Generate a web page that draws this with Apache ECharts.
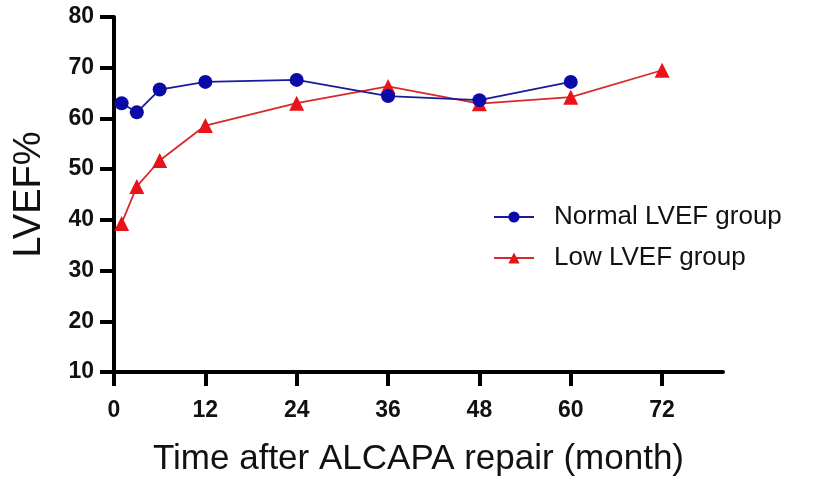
<!DOCTYPE html>
<html><head><meta charset="utf-8">
<script src="https://cdn.jsdelivr.net/npm/echarts@6/dist/echarts.min.js"></script>
<style>html,body{margin:0;padding:0;background:#fff}#c{width:826px;height:488px}</style>
</head><body><div id="c"></div>
<script>
const normalX = [1, 3, 6, 12, 24, 36, 48, 60];
const normalY = [63.0, 61.2, 65.7, 67.2, 67.6, 64.4, 63.6, 67.2];
const lowX = [1, 3, 6, 12, 24, 36, 48, 60, 72];
const lowY = [39.3, 46.6, 51.7, 58.6, 63.0, 66.3, 62.9, 64.2, 69.5];
const xTicks = [0, 12, 24, 36, 48, 60, 72];
const yTicks = [10, 20, 30, 40, 50, 60, 70, 80];

const chart = echarts.init(document.getElementById('c'));
const zip = (xs, ys) => xs.map((x, i) => [x, ys[i]]);
chart.setOption({
  animation: false,
  grid: {left: 114, right: 103, top: 17, bottom: 116, outerBoundsMode: 'none', containLabel: false},
  legend: {
    orient: 'vertical', left: 493, top: 204, itemGap: 15, padding: 0,
    itemWidth: 40, itemHeight: 14,
    textStyle: {fontFamily: 'Liberation Sans', fontSize: 26, color: '#111', padding: [0, 0, 0, 15]},
    data: ['Normal LVEF group', 'Low LVEF group']
  },
  xAxis: {
    type: 'value', min: 0, max: 80, interval: 12,
    axisLine: {lineStyle: {color: '#000', width: 4}},
    axisTick: {show: true, length: 14, lineStyle: {color: '#000', width: 4},
      customValues: xTicks},
    axisLabel: {customValues: xTicks, fontFamily: 'Liberation Sans', fontWeight: 'bold', fontSize: 23, color: '#111', margin: 27},
    splitLine: {show: false},
    name: 'Time after ALCAPA repair (month)', nameLocation: 'middle', nameGap: 87,
    nameTextStyle: {fontFamily: 'Liberation Sans', fontSize: 35, color: '#111', verticalAlign: 'middle'}
  },
  yAxis: {
    type: 'value', min: 10, max: 80, interval: 10,
    axisLine: {show: true, lineStyle: {color: '#000', width: 4}},
    axisTick: {show: true, length: 14, lineStyle: {color: '#000', width: 4}},
    axisLabel: {fontFamily: 'Liberation Sans', fontWeight: 'bold', fontSize: 23, color: '#111', margin: 20,
      customValues: yTicks},
    splitLine: {show: false},
    name: 'LVEF%', nameLocation: 'middle', nameGap: 84,
    nameTextStyle: {fontFamily: 'Liberation Sans', fontSize: 38, color: '#111', verticalAlign: 'middle'}
  },
  series: [
    {name: 'Normal LVEF group', type: 'line', data: zip(normalX, normalY),
      symbol: 'circle', symbolSize: 14, z: 3,
      lineStyle: {color: '#1a1a9a', width: 1.8},
      itemStyle: {color: '#0a0aa8'}},
    {name: 'Low LVEF group', type: 'line', data: zip(lowX, lowY),
      symbol: 'triangle', symbolSize: 15, z: 2,
      lineStyle: {color: '#d8282c', width: 1.8},
      itemStyle: {color: '#e8141a'}}
  ]
});
</script></body></html>
